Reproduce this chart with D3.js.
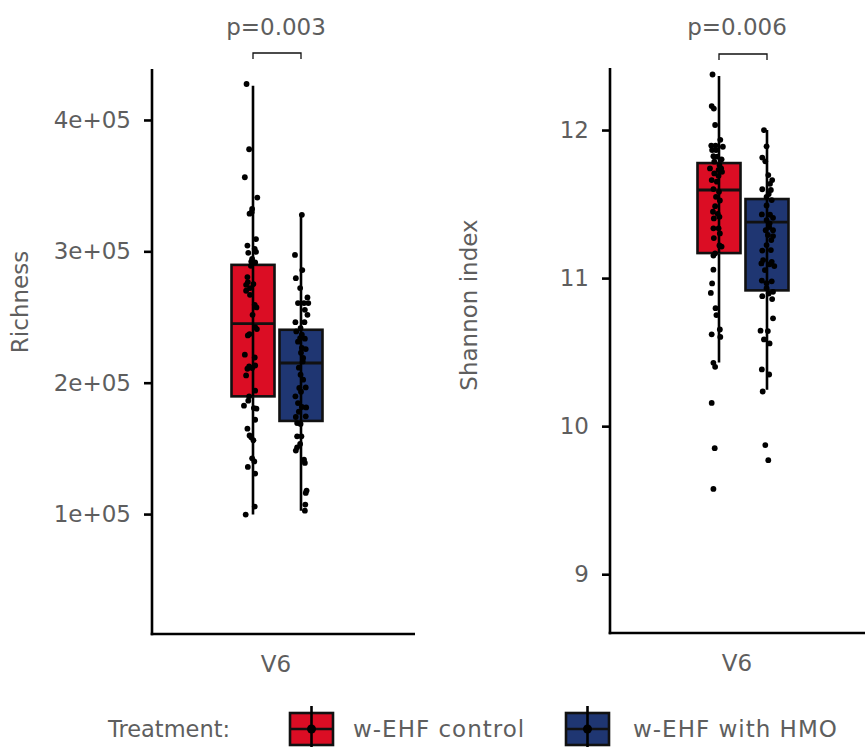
<!DOCTYPE html>
<html>
<head>
<meta charset="utf-8">
<script src="https://cdn.jsdelivr.net/npm/d3@7"></script>
<style>
  body { margin: 0; background: #fff; }
  svg text { font-family: "DejaVu Sans", sans-serif; fill: #5e5e5e; }
</style>
</head>
<body>
<svg id="chart" width="865" height="747"></svg>
<script>
// groups / legend
const treatments = ['w-EHF control', 'w-EHF with HMO'];
const fills = ['#db0d24', '#1f3672'];
const visit = 'V6';

// Richness, per sample; jitter is fraction of box width
const richControl = [427400, 377700, 356400, 340900, 332300, 328700, 329800, 309300, 304400, 301900,
  298900, 299600, 294300, 292200, 291500, 289000, 280400, 276600, 275100, 274500,
  272000, 270000, 266900, 259300, 257300, 251700, 242300, 240800, 236000, 237000,
  221300, 219200, 212400, 213100, 210600, 211200, 205500, 193900, 189600, 186300,
  182500, 180700, 180200, 171800, 165000, 159900, 158400, 156100, 142400, 140100,
  135900, 130800, 105700, 99600];
const richControlJit = [-0.15, -0.09, -0.19, 0.10, -0.02, -0.08, -0.03, 0.07, -0.13, 0.04,
  -0.11, 0.07, -0.02, -0.04, 0.05, -0.05, -0.13, -0.12, 0.01, -0.16,
  -0.07, -0.16, -0.07, 0.04, 0.08, -0.01, 0.05, 0.09, -0.12, -0.08,
  -0.19, 0.04, -0.09, 0.05, -0.13, -0.02, -0.16, 0.05, -0.09, -0.11,
  -0.21, 0.02, 0.08, 0.05, -0.13, -0.08, -0.04, 0.01, -0.02, 0.03,
  -0.12, 0.05, 0.04, -0.17];
const richHMO = [327800, 297300, 285700, 279600, 272000, 264900, 260600, 260600, 260600, 255500,
  251700, 246100, 246100, 241600, 239000, 236500, 234000, 233500, 231200, 226400,
  225600, 222800, 218800, 216200, 211400, 206100, 202300, 196400, 196000, 193100,
  189600, 184500, 181200, 181500, 177900, 173900, 174400, 169300, 168600, 159200,
  159200, 153400, 150800, 148300, 141400, 138900, 117900, 116100, 107200, 102600];
const richHMOJit = [0.02, -0.14, 0.03, -0.12, -0.02, 0.15, -0.07, 0.07, 0.17, 0.09,
  0.15, -0.13, 0.08, -0.01, -0.11, 0.02, -0.02, 0.09, -0.07, 0.02,
  0.11, 0.00, 0.05, 0.04, -0.05, -0.01, 0.05, 0.11, -0.04, 0.00,
  -0.13, -0.07, 0.12, 0.02, -0.05, -0.12, 0.11, -0.09, -0.01, -0.09,
  0.01, -0.02, -0.09, -0.12, 0.07, 0.09, 0.13, 0.11, 0.10, 0.09];

// Shannon index, per sample
const shanControl = [12.375, 12.162, 12.145, 12.034, 11.934, 11.895, 11.895, 11.887, 11.865, 11.865,
  11.823, 11.820, 11.802, 11.786, 11.764, 11.741, 11.741, 11.730, 11.718, 11.707,
  11.691, 11.662, 11.651, 11.601, 11.583, 11.549, 11.524, 11.486, 11.448, 11.434,
  11.414, 11.403, 11.336, 11.336, 11.302, 11.270, 11.220, 11.213, 11.167, 11.152,
  11.057, 10.964, 10.900, 10.797, 10.750, 10.653, 10.620, 10.603, 10.428, 10.401,
  10.157, 9.851, 9.576];
const shanControlJit = [-0.15, -0.17, -0.12, -0.09, 0.03, -0.18, -0.08, 0.09, -0.16, -0.07,
  -0.13, -0.04, 0.06, -0.11, 0.01, -0.21, 0.05, -0.01, 0.07, -0.11,
  -0.01, -0.17, -0.05, -0.13, 0.00, -0.07, 0.02, -0.09, -0.14, -0.03,
  0.01, -0.12, -0.13, -0.01, 0.02, -0.12, 0.01, 0.06, -0.09, -0.13,
  -0.13, -0.16, -0.19, -0.08, -0.06, 0.02, -0.17, 0.03, -0.13, -0.09,
  -0.17, -0.10, -0.13];
const shanHMO = [12.000, 11.890, 11.814, 11.789, 11.696, 11.662, 11.637, 11.600, 11.595, 11.568,
  11.549, 11.527, 11.491, 11.430, 11.428, 11.407, 11.392, 11.370, 11.345, 11.324,
  11.324, 11.291, 11.284, 11.257, 11.223, 11.189, 11.186, 11.122, 11.110, 11.099,
  11.093, 11.081, 11.054, 10.983, 10.978, 10.966, 10.932, 10.907, 10.896, 10.878,
  10.858, 10.728, 10.645, 10.642, 10.586, 10.559, 10.383, 10.349, 10.234, 9.872, 9.770];
const shanHMOJit = [-0.07, -0.01, -0.11, -0.04, 0.03, 0.12, 0.07, -0.11, 0.09, 0.04,
  -0.01, 0.11, -0.01, -0.12, 0.07, 0.14, -0.01, 0.06, 0.05, -0.03,
  0.14, 0.02, 0.14, 0.10, -0.01, 0.09, -0.11, -0.09, 0.11, -0.13,
  0.06, 0.17, -0.05, -0.12, 0.11, -0.01, -0.01, 0.14, 0.04, -0.11,
  0.12, 0.14, -0.15, 0.02, -0.07, 0.06, -0.12, 0.05, -0.10, -0.04, 0.03];

// box stats [whisker low, q1, median, q3, whisker high]
const richBoxes = [[99600, 189600, 244900, 289700, 426000], [102600, 170900, 215000, 240300, 327800]];
const shanBoxes = [[10.43, 11.169, 11.595, 11.777, 12.365], [10.246, 10.917, 11.378, 11.534, 12.0]];

const richTicks = [100000, 200000, 300000, 400000];
const shanTicks = [9, 10, 11, 12];
const pLabels = ['p=0.003', 'p=0.006'];

const svg = d3.select('#chart');

function panel(opt) {
    const g = svg.append('g');
    const x = d3.scaleBand().domain([visit]).range(opt.xRange);
    const dodge = d3.scaleBand().domain(treatments).range([-45.5, 45.5]).paddingInner(0.104);
    const y = d3.scaleLinear().domain(opt.yDomain).range([opt.bottom, opt.top]);
    const bw = dodge.bandwidth();
    const cx = t => x(visit) + x.bandwidth() / 2 + dodge(t) + bw / 2;

    // boxes
    treatments.forEach(function(t, i) {
        const b = opt.boxes[i];
        const c = cx(t);
        g.append('line')
            .attr('x1', c).attr('x2', c)
            .attr('y1', y(b[0])).attr('y2', y(b[4]))
            .attr('stroke', '#000').attr('stroke-width', 2.6);
        g.append('rect')
            .attr('x', c - bw / 2).attr('width', bw)
            .attr('y', y(b[3])).attr('height', y(b[1]) - y(b[3]))
            .attr('fill', fills[i]).attr('stroke', '#111').attr('stroke-width', 2.6);
        g.append('line')
            .attr('x1', c - bw / 2).attr('x2', c + bw / 2)
            .attr('y1', y(b[2])).attr('y2', y(b[2]))
            .attr('stroke', '#111').attr('stroke-width', 2.8);
        g.append('line')
            .attr('x1', c).attr('x2', c)
            .attr('y1', y(b[1])).attr('y2', y(b[3]))
            .attr('stroke', '#000').attr('stroke-width', 2.6);
    });

    // jittered points
    treatments.forEach(function(t, i) {
        const vals = opt.values[i], jit = opt.jitter[i];
        g.selectAll(null)
            .data(vals)
            .enter().append('circle')
            .attr('cx', (d, k) => cx(t) + jit[k] * bw)
            .attr('cy', d => y(d))
            .attr('r', 2.9)
            .attr('fill', '#000');
    });

    // axes
    const ya = g.append('g')
        .attr('transform', 'translate(' + opt.xRange[0] + ',0)')
        .call(d3.axisLeft(y).tickValues(opt.ticks).tickFormat(opt.fmt).tickSize(8).tickSizeOuter(0).tickPadding(13));
    ya.select('.domain').remove();
    ya.selectAll('.tick line').attr('stroke', '#000').attr('stroke-width', 2.6);
    ya.selectAll('.tick text').style('font-size', '23px').attr('fill', '#5e5e5e');

    g.append('line')
        .attr('x1', opt.xRange[0]).attr('x2', opt.xRange[0])
        .attr('y1', opt.top).attr('y2', opt.bottom + 1.3)
        .attr('stroke', '#000').attr('stroke-width', 2.6);
    g.append('line')
        .attr('x1', opt.xRange[0] - 1.3).attr('x2', opt.xEnd)
        .attr('y1', opt.bottom).attr('y2', opt.bottom)
        .attr('stroke', '#000').attr('stroke-width', 2.6);

    const xa = g.append('g')
        .attr('transform', 'translate(0,' + opt.bottom + ')')
        .call(d3.axisBottom(x).tickSize(0).tickPadding(22));
    xa.select('.domain').remove();
    xa.selectAll('.tick text').style('font-size', '23px').attr('fill', '#5e5e5e')
        .attr('dx', opt.labelShift);

    // y title
    g.append('text')
        .attr('transform', 'translate(' + opt.titleX + ',' + opt.titleY + ') rotate(-90)')
        .attr('text-anchor', 'middle')
        .style('font-size', '23px')
        .text(opt.title);

    // significance bracket
    const c0 = cx(treatments[0]), c1 = cx(treatments[1]);
    const by = opt.bracketY;
    g.append('path')
        .attr('d', 'M' + c0 + ',' + (by + 6) + 'V' + by + 'H' + c1 + 'V' + (by + 6))
        .attr('fill', 'none').attr('stroke', '#111').attr('stroke-width', 1.3);
    g.append('text')
        .attr('x', (c0 + c1) / 2 + opt.labelShift)
        .attr('y', 35)
        .attr('text-anchor', 'middle')
        .style('font-size', '23px')
        .text(opt.p);
}

panel({
    xRange: [152, 402], xEnd: 415, top: 69, bottom: 634,
    yDomain: [8700, 438800], ticks: richTicks, fmt: d => d3.format('.0e')(d).replace('e+', 'e+0'),
    boxes: richBoxes, values: [richControl, richHMO], jitter: [richControlJit, richHMOJit],
    title: 'Richness', titleX: 28, titleY: 302, bracketY: 53, p: pLabels[0], labelShift: -1
});

panel({
    xRange: [610, 876], xEnd: 865, top: 68, bottom: 633,
    yDomain: [8.603, 12.419], ticks: shanTicks, fmt: d3.format('d'),
    boxes: shanBoxes, values: [shanControl, shanHMO], jitter: [shanControlJit, shanHMOJit],
    title: 'Shannon index', titleX: 477, titleY: 305, bracketY: 54, p: pLabels[1], labelShift: -6
});

// legend
const leg = svg.append('g');
leg.append('text').attr('x', 108).attr('y', 737).style('font-size', '22.5px').text('Treatment:');
const keyX = [290, 566], labX = [353, 633];
treatments.forEach(function(t, i) {
    const kx = keyX[i], ky = 713, kw = 43, kh = 32;
    leg.append('rect').attr('x', kx).attr('y', ky).attr('width', kw).attr('height', kh)
        .attr('fill', fills[i]).attr('stroke', '#111').attr('stroke-width', 2.6);
    leg.append('line').attr('x1', kx + kw / 2).attr('x2', kx + kw / 2).attr('y1', ky - 7).attr('y2', ky + kh + 7)
        .attr('stroke', '#000').attr('stroke-width', 2.6);
    leg.append('line').attr('x1', kx).attr('x2', kx + kw).attr('y1', ky + kh / 2).attr('y2', ky + kh / 2)
        .attr('stroke', '#111').attr('stroke-width', 2.6);
    leg.append('circle').attr('cx', kx + kw / 2).attr('cy', ky + kh / 2).attr('r', 4.5).attr('fill', '#000');
    leg.append('text').attr('x', labX[i]).attr('y', 737)
        .style('font-size', '23px').style('letter-spacing', '1px').text(t);
});
</script>
</body>
</html>
